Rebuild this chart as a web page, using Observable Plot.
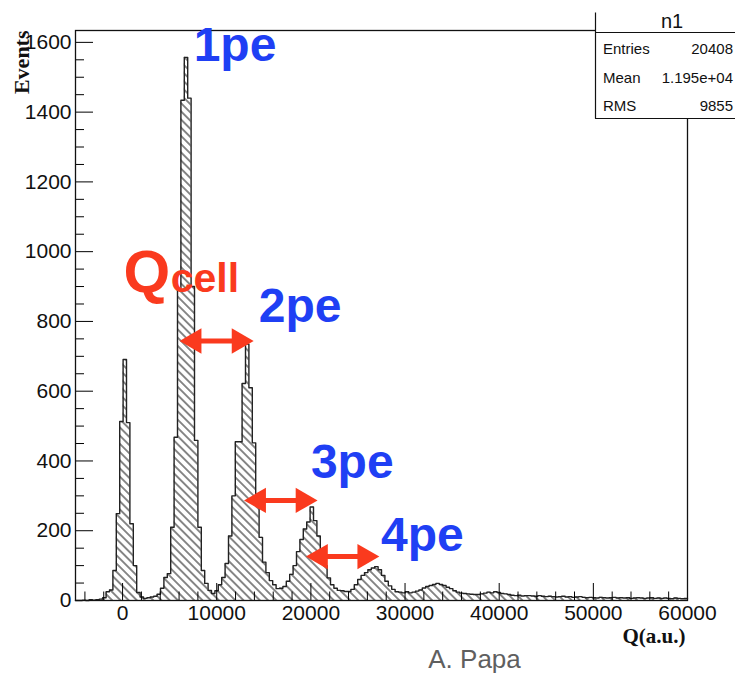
<!DOCTYPE html>
<html><head><meta charset="utf-8">
<script src="https://cdn.jsdelivr.net/npm/d3@7"></script>
<script src="https://cdn.jsdelivr.net/npm/@observablehq/plot@0.6"></script>
<style>
body{margin:0;background:#fff;}
#chart{width:735px;height:674px;overflow:hidden;}
</style></head><body><div id="chart"></div>
<script>
// ---- data ----
const counts = [
  0,0,1,0,2,1,2,4,8,25, 30,86,249,513,691,510,220,100,23,10,
  6,8,10,12,18,35,66,77,210,468, 890,1434,1557,1440,900,459,210,86,49,29,
  20,28,45,66,106,185,300,455,455,622, 735,610,452,305,181,110,80,57,45,34,
  35,40,55,75,100,140,175,205,225,268, 229,185,135,100,65,45,35,29,28,26,
  26,32,45,60,72,80,88,93,97,88, 72,55,42,32,25,24,22,25,22,24,
  27,30,36,40,43,46,49,46,43,38, 34,28,24,21,20,19,18,17,17,19,
  21,24,22,25,23,20,19,17,15,14, 15,13,14,14,13,12,14,12,11,12,
  11,10,11,12,10,11,9,10,11,9, 8,9,8,7,9,8,7,8,9,7,
  8,7,8,6,7,8,7,6,7,8, 6,7,6,7,6,5,7,6,5,6
];
const binLow = -5000, binHigh = 60000;
const yMax = 1634;
const xMajorTicks = [0,10000,20000,30000,40000,50000,60000];
const xMinorTicks = [-4000,-2000,2000,4000,6000,8000,12000,14000,16000,18000,22000,24000,26000,28000,32000,34000,36000,38000,42000,44000,46000,48000,52000,54000,56000,58000];
const yMajorTicks = [0,200,400,600,800,1000,1200,1400,1600];
const yMinorTicks = [50,100,150,250,300,350,450,500,550,650,700,750,850,900,950,1050,1100,1150,1250,1300,1350,1450,1500,1550];
const peakLabels = ["1pe","2pe","3pe","4pe"];
const peakLabelX = [7550,14470,20000,27450];
const peakLabelY = [1548,797,350,143];
const arrowX1 = [6050,12900,19470];
const arrowX2 = [13920,20710,27270];
const arrowY = [744,287,126];
const qLabelX = [96,5106];
const qLabelY = 883;
const statsNames = ["Entries","Mean","RMS"];
const statsValues = ["20408","1.195e+04","9855"];
const histName = "n1";
const xTitle = "Q(a.u.)", yTitle = "Events", credit = "A. Papa";

// ---- build tables ----
const bw = (binHigh - binLow) / counts.length;
const pts = counts.map((c, i) => ({x: binLow + i * bw, y: c}));
pts.push({x: binHigh, y: counts[counts.length - 1]});
const arrows = arrowX1.map((x1, i) => ({x1, x2: arrowX2[i], y: arrowY[i]}));

const red = "#fa3a1e", blue = "#1f3ff4";
const sans = "'Liberation Sans', Arial, Helvetica, sans-serif";
const serif = "'Liberation Serif', 'Times New Roman', serif";

const plot = Plot.plot({
  width: 735, height: 674,
  marginLeft: 75, marginRight: 48, marginTop: 30, marginBottom: 74,
  style: {fontFamily: sans, background: "white"},
  x: {domain: [binLow, binHigh], label: null},
  y: {domain: [0, yMax], label: null},
  marks: [
    Plot.areaY(pts, {x: "x", y: "y", curve: "step-after", fill: "url(#hatch)"}),
    Plot.lineY(pts, {x: "x", y: "y", curve: "step-after", stroke: "#222", strokeWidth: 1.4}),
    Plot.axisX(xMajorTicks, {tickSize: -17, tickFormat: () => "", label: null}),
    Plot.axisX(xMinorTicks, {tickSize: -8.5, tickFormat: () => "", label: null}),
    Plot.axisX(xMajorTicks, {tickSize: 0, tickPadding: 5, fontSize: 21, fill: "#111", tickFormat: d => String(d), label: null}),
    Plot.axisY(yMajorTicks, {tickSize: -18, tickFormat: () => "", label: null}),
    Plot.axisY(yMinorTicks, {tickSize: -9, tickFormat: () => "", label: null}),
    Plot.axisY(yMajorTicks, {tickSize: 0, tickPadding: 4, fontSize: 21, fill: "#111", tickFormat: d => String(d), label: null}),
    Plot.frame({stroke: "#111", strokeWidth: 1.3}),
    Plot.text(peakLabels, {x: (d, i) => peakLabelX[i], y: (d, i) => peakLabelY[i], text: d => d,
      textAnchor: "start", lineAnchor: "bottom", fontSize: 48, fontWeight: "bold", fill: blue}),
    Plot.text(["Q"], {x: qLabelX[0], y: qLabelY, text: d => d, textAnchor: "start", lineAnchor: "bottom",
      fontSize: 60, fontWeight: "bold", fill: red}),
    Plot.text(["cell"], {x: qLabelX[1], y: qLabelY, text: d => d, textAnchor: "start", lineAnchor: "bottom",
      fontSize: 41, fontWeight: "bold", fill: red}),
    Plot.ruleY(arrows, {y: "y", x1: "x1", x2: "x2", insetLeft: 15, insetRight: 15, stroke: red, strokeWidth: 5}),
    Plot.dot(arrows, {x: "x2", y: "y", symbol: "triangle", r: 9.4, rotate: 90, dx: -14.6, fill: red, stroke: "none"}),
    Plot.dot(arrows, {x: "x1", y: "y", symbol: "triangle", r: 9.4, rotate: -90, dx: 14.6, fill: red, stroke: "none"}),
    Plot.text([yTitle], {frameAnchor: "top-left", text: d => d, rotate: -90, dx: -47, textAnchor: "end", lineAnchor: "bottom",
      fontFamily: serif, fontWeight: "bold", fontSize: 22, fill: "#111"}),
    Plot.text([xTitle], {frameAnchor: "bottom-right", text: d => d, dx: -2, dy: 42, textAnchor: "end", lineAnchor: "bottom",
      fontFamily: serif, fontWeight: "bold", fontSize: 21, fill: "#111"}),
    Plot.text([credit], {frameAnchor: "bottom", text: d => d, dx: 93, dy: 67, textAnchor: "middle", lineAnchor: "bottom",
      fontSize: 26, fill: "#5f5f5f", fontWeight: 300, letterSpacing: "0.6px"})
  ]
});

const svg = d3.select(plot);
const defs = svg.insert("defs", ":first-child");
const pat = defs.append("pattern").attr("id", "hatch").attr("patternUnits", "userSpaceOnUse")
  .attr("width", 5.8).attr("height", 5.8).attr("patternTransform", "rotate(-45)");
pat.append("line").attr("x1", 2.9).attr("y1", -1).attr("x2", 2.9).attr("y2", 6.8)
  .attr("stroke", "#111").attr("stroke-width", 1);

// statistics box (ROOT style), drawn on top
const g = svg.append("g").attr("font-family", sans).attr("text-anchor", "start");
g.append("rect").attr("x", 595.5).attr("y", 12).attr("width", 150).attr("height", 106).attr("fill", "white");
g.append("line").attr("x1", 595.5).attr("x2", 595.5).attr("y1", 12.5).attr("y2", 118.5).attr("stroke", "#111").attr("stroke-width", 1.2);
g.append("line").attr("x1", 595).attr("x2", 735).attr("y1", 32.5).attr("y2", 32.5).attr("stroke", "#111").attr("stroke-width", 1.2);
g.append("line").attr("x1", 595).attr("x2", 735).attr("y1", 118.5).attr("y2", 118.5).attr("stroke", "#111").attr("stroke-width", 1.2);
g.append("text").attr("x", 672).attr("y", 28).attr("text-anchor", "middle").attr("font-size", 20).attr("fill", "#111").text(histName);
statsNames.forEach((n, i) => {
  const yy = 54 + i * 28.5;
  g.append("text").attr("x", 603).attr("y", yy).attr("text-anchor", "start").attr("font-size", 15).attr("fill", "#111").text(n);
  g.append("text").attr("x", 733).attr("y", yy).attr("text-anchor", "end").attr("font-size", 15).attr("fill", "#111").text(statsValues[i]);
});

document.getElementById("chart").appendChild(plot);
</script></body></html>
